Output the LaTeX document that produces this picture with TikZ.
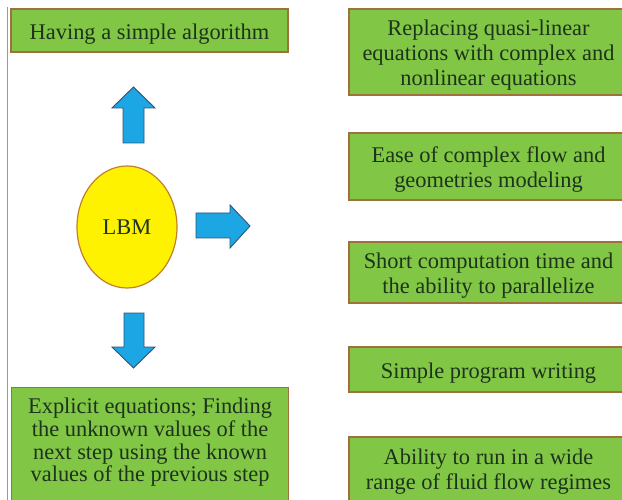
\documentclass[tikz,border=0pt]{standalone}
\usepackage{fontspec}
\setmainfont{Liberation Serif}
\usetikzlibrary{shapes.geometric}
\definecolor{boxfill}{HTML}{82C645}
\definecolor{boxline}{HTML}{A0703C}
\definecolor{boxtext}{HTML}{1C331C}
\definecolor{arrfill}{HTML}{1CA6E4}
\definecolor{arrline}{HTML}{2A5577}
\definecolor{lbmfill}{HTML}{FFF200}
\definecolor{lbmline}{HTML}{C0802E}
% a taller first line sets the text a little lower in its box
\newcommand\tallline[1][22.5pt]{\rule{0pt}{#1}}
\tikzset{
  feature/.style={rectangle, draw=boxline, fill=boxfill, line width=1.2pt,
    text=boxtext, align=center, inner sep=0pt,
    font=\fontsize{22.4}{25}\selectfont},
  blockarrow/.style={draw=arrline, fill=arrfill, line width=0.9pt, line join=miter},
}
\begin{document}
\begin{tikzpicture}[x=1pt, y=-1pt]
\useasboundingbox (0,0) rectangle (622,500);
\clip (0,0) rectangle (622,500);
\fill[white] (0,0) rectangle (622,500);
% left margin rule
\draw[gray!80, line width=1pt] (7,7) -- (7,505);

% central method
\node[ellipse, draw=lbmline, fill=lbmfill, line width=1.2pt, minimum width=100pt,
  minimum height=122pt, inner sep=0pt, font=\fontsize{22.4}{25}\selectfont,
  text=boxtext] (lbm) at (127,227) {LBM};

% left column
\node[feature, minimum width=277pt, minimum height=43pt] (algo) at (149.5,30.5)
  {\tallline Having a simple algorithm};
\node[feature, anchor=north west, font=\fontsize{22.4}{22.7}\selectfont] (explicit) at (11,387)
  {\begin{minipage}[c][120pt][t]{277pt}\centering\vspace{10.5pt}
   Explicit equations; Finding\\
   the unknown values of the\\
   next step using the known\\
   values of the previous step\end{minipage}};

% right column
\node[feature, minimum width=279pt, minimum height=86pt] (quasi) at (488.5,52)
  {\tallline Replacing quasi-linear\\equations with complex and\\nonlinear equations};
\node[feature, minimum width=279pt, minimum height=67pt] (geom) at (488.5,166.5)
  {\tallline Ease of complex flow and\\geometries modeling};
\node[feature, minimum width=279pt, minimum height=61pt] (short) at (488.5,272.5)
  {\tallline Short computation time and\\the ability to parallelize};
\node[feature, minimum width=279pt, minimum height=45pt] (prog) at (488.5,369.5)
  {\tallline Simple program writing};
\node[feature, minimum width=279pt, minimum height=66pt] (range) at (488.5,470)
  {\tallline[18pt]Ability to run in a wide\\range of fluid flow regimes};

% block arrows
\draw[blockarrow] (133.5,87) -- (155,108) -- (144,108) -- (144,143) -- (123,143)
  -- (123,108) -- (112,108) -- cycle;
\draw[blockarrow] (133.5,368) -- (155,347) -- (144,347) -- (144,313) -- (124,313)
  -- (124,347) -- (112,347) -- cycle;
\draw[blockarrow] (250,226) -- (230,205) -- (230,213) -- (196,213) -- (196,238)
  -- (230,238) -- (230,248) -- cycle;
\end{tikzpicture}
\end{document}
